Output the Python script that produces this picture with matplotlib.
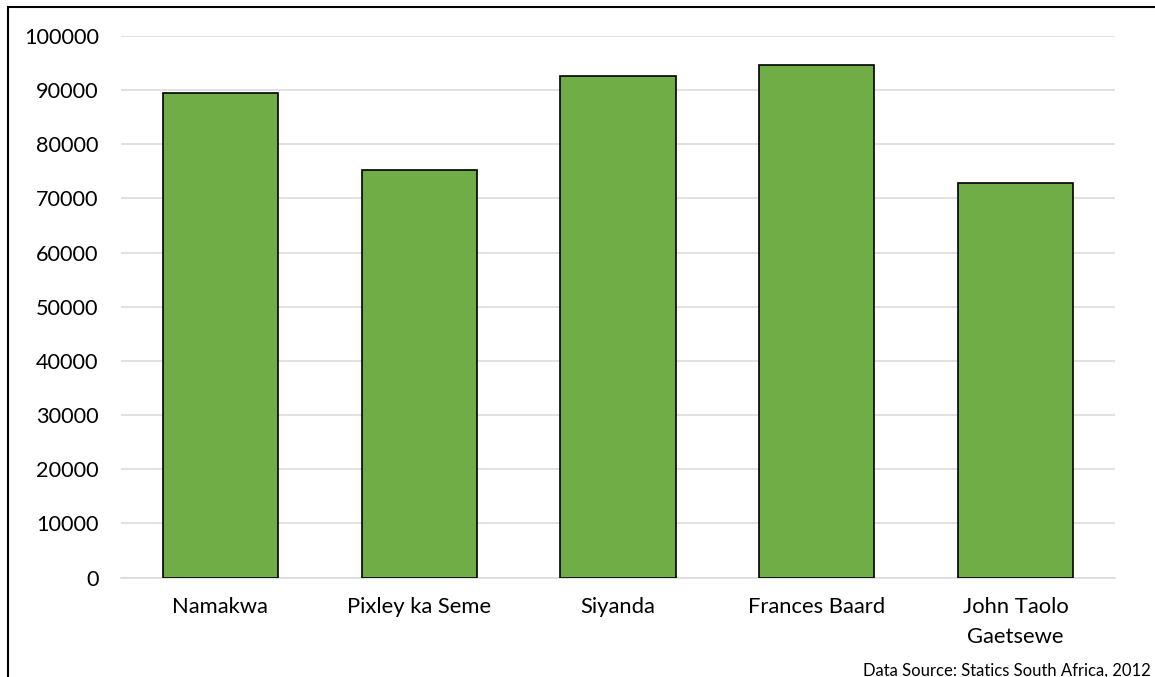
import numpy as np
import matplotlib.pyplot as plt
from matplotlib.patches import Rectangle

# district values, Northern Cape
districts = ["Namakwa", "Pixley ka Seme", "Siyanda", "Frances Baard",
             "John Taolo\nGaetsewe"]
values = [89400, 75300, 92700, 94700, 72900]
yticks = np.arange(0, 100001, 10000)

plt.rcParams['font.family'] = ['Lato', 'DejaVu Sans']

fig = plt.figure(figsize=(11.55, 6.77), dpi=100)
ax = fig.add_axes([121 / 1155, 99.5 / 677, 994 / 1155, 541.5 / 677])

x = np.arange(len(districts))
ax.bar(x, values, width=0.58, color="#70ad47", edgecolor="black",
       linewidth=1.2, zorder=3)

ax.set_xlim(-0.5, len(districts) - 0.5)
ax.set_ylim(0, 100000)
ax.set_yticks(yticks)
ax.set_yticklabels([str(v) for v in yticks], fontsize=15.6)
ax.set_xticks(x)
ax.set_xticklabels(districts, fontsize=15.8, linespacing=1.6)
ax.tick_params(axis="y", length=0, pad=16)
ax.tick_params(axis="x", length=0, pad=14)

ax.grid(axis="y", color="#d9d9d9", linewidth=1.1, zorder=0)
for side in ["top", "right", "left"]:
    ax.spines[side].set_visible(False)
ax.spines["bottom"].set_color("#d9d9d9")
ax.spines["bottom"].set_linewidth(1.1)

# outer chart frame, cut off on the right and bottom
frame = Rectangle((8 / 1155, -0.2), 2.0, 1.2 - 7 / 677, transform=fig.transFigure,
                  fill=False, edgecolor="black", linewidth=1.5, clip_on=False)
fig.patches.append(frame)

fig.text(1151 / 1155, 6 / 677, "Data Source: Statics South Africa, 2012",
         ha="right", va="center", fontsize=12, transform=fig.transFigure)

fig.savefig("out.png", dpi=100)
